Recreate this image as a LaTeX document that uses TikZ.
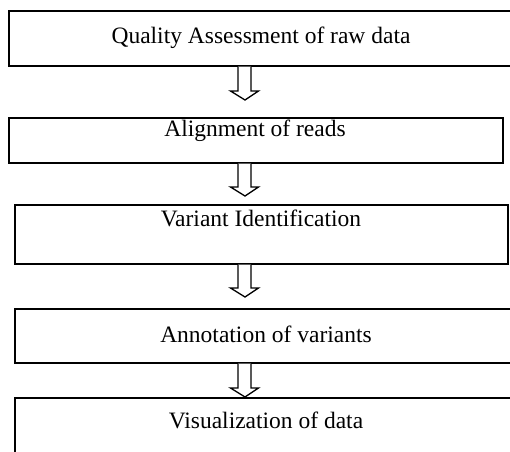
\documentclass[tikz,border=0pt]{standalone}
\usepackage{fontspec}
\setmainfont{Liberation Serif}
\usetikzlibrary{calc}
\tikzset{
  box/.style={draw=black, line width=1.6bp, rectangle, inner sep=0pt, anchor=north west},
  lbl/.style={inner sep=0pt, anchor=base, font=\fontsize{23.5bp}{28bp}\selectfont},
  arrowline/.style={draw=black, line width=1.3bp, line join=miter, fill=white}
}
\newcommand{\blockarrow}[2]{%
  \draw[arrowline] let \p1=(#1), \p2=(#2) in
    (\x1-6.5bp,\y1) -- (\x1-6.5bp,\y2+9bp) -- (\x1-14bp,\y2+9bp) -- (\x2,\y2)
    -- (\x1+14bp,\y2+9bp) -- (\x1+6.5bp,\y2+9bp) -- (\x1+6.5bp,\y1);}
\begin{document}
\begin{tikzpicture}[x=1bp,y=-1bp]
\useasboundingbox (0,0) rectangle (510,452);
\clip (0,0) rectangle (510,452);
\fill[white] (0,0) rectangle (510,452);
% boxes
\node[box, minimum width=510bp, minimum height=55bp] (b1) at (8,10) {};
\node[box, minimum width=494bp, minimum height=45bp] (b2) at (8,117) {};
\node[box, minimum width=493bp, minimum height=59bp] (b3) at (14,204) {};
\node[box, minimum width=504bp, minimum height=54bp] (b4) at (14,308) {};
\node[box, minimum width=504bp, minimum height=70bp] (b5) at (14,397) {};
% labels
\node[lbl] (t1) at (261,44) {Quality Assessment of raw data};
\node[lbl] (t2) at (255,137) {Alignment of reads};
\node[lbl] (t3) at (261,227) {Variant Identification};
\node[lbl] (t4) at (266,342) {Annotation of variants};
\node[lbl] (t5) at (266,428) {Visualization of data};
% arrow axis and tips
\coordinate (ax) at (244.5,0);
\coordinate (p1) at (245,100);
\coordinate (p2) at (245,196);
\coordinate (p3) at (245,297);
\coordinate (p4) at (245,397);
\blockarrow{b1.south -| ax}{p1}
\blockarrow{b2.south -| ax}{p2}
\blockarrow{b3.south -| ax}{p3}
\blockarrow{b4.south -| ax}{p4}
\end{tikzpicture}
\end{document}
